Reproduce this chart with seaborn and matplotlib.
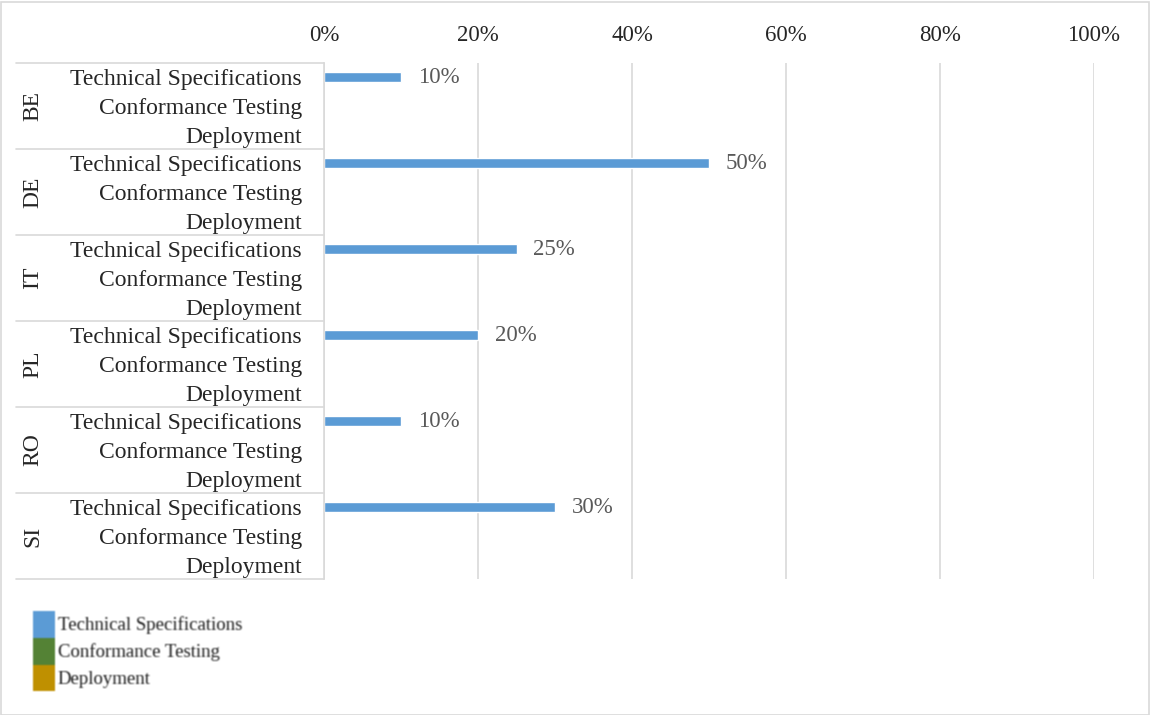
import numpy as np
import pandas as pd
import matplotlib
matplotlib.use("Agg")
import matplotlib.pyplot as plt
import matplotlib.image as mimage
import matplotlib.transforms as mtransforms
from matplotlib.patches import Patch, Rectangle
from matplotlib.ticker import PercentFormatter
import seaborn as sns

# ---- data ----
countries = ["BE", "DE", "IT", "PL", "RO", "SI"]
stages = ["Technical Specifications", "Conformance Testing", "Deployment"]
tech_spec = [0.10, 0.50, 0.25, 0.20, 0.10, 0.30]
conformance = [np.nan] * 6
deployment = [np.nan] * 6
x_ticks = [0.0, 0.2, 0.4, 0.6, 0.8, 1.0]
stage_colors = ["#5B9BD5", "#548235", "#BF9000"]

sns.set_theme(style="white")
plt.rcParams["font.family"] = ["Liberation Serif", "DejaVu Serif"]

rows = []
for i, c in enumerate(countries):
    for s, vals in zip(stages, [tech_spec, conformance, deployment]):
        rows.append({"row": f"{c}|{s}", "country": c, "stage": s, "value": vals[i]})
df = pd.DataFrame(rows)
row_order = list(df["row"])

W, H = 1150, 715
fig = plt.figure(figsize=(W / 100, H / 100), dpi=100)
ax = fig.add_axes([324 / W, 1 - 579 / H, (1094 - 324) / W, (579 - 63) / H])

sns.barplot(data=df, x="value", y="row", hue="stage", order=row_order,
            hue_order=stages, palette=stage_colors, dodge=False,
            orient="h", width=0.36, legend=False, ax=ax, saturation=1)

ax.set_xlim(0, 1)
ax.set_ylim(len(row_order) - 0.5, -0.5)
ax.xaxis.tick_top()
ax.set_xticks(x_ticks)
ax.xaxis.set_major_formatter(PercentFormatter(1.0, decimals=0))
ax.tick_params(axis="x", length=0, pad=12, labelsize=16.5, labelcolor="#262626")
ax.grid(axis="x", color="#D9D9D9", linewidth=1.2)
ax.set_axisbelow(True)
ax.set_xlabel("")
ax.set_ylabel("")
for side in ["top", "right", "bottom"]:
    ax.spines[side].set_visible(False)
ax.spines["left"].set_color("#D9D9D9")
ax.spines["left"].set_linewidth(1.2)

# inner category labels
ax.set_yticks(range(len(row_order)))
ax.set_yticklabels([r.split("|")[1] for r in row_order])
ax.tick_params(axis="y", length=0, pad=16, labelsize=17, labelcolor="#262626")

# value labels on the bars
for cont in ax.containers:
    labels = ["" if (v is None or np.isnan(v)) else f"{v:.0%}" for v in cont.datavalues]
    ax.bar_label(cont, labels=labels, padding=12, fontsize=16.5, color="#595959")

# outer category labels and group separators
blend = mtransforms.blended_transform_factory(fig.transFigure, ax.transData)
n = len(stages)
for i, c in enumerate(countries):
    ax.text(33 / W, i * n + (n - 1) / 2, c, transform=blend, rotation=90,
            ha="center", va="center", fontsize=17, color="#262626")
for k in range(len(countries) + 1):
    yb = k * n - 0.5
    ax.plot([16 / W, 324 / W], [yb, yb], transform=blend, color="#D9D9D9",
            linewidth=1.2, clip_on=False)

# legend
handles = [Patch(facecolor=col, edgecolor="none") for col in stage_colors]
fig.legend(handles, stages, loc="upper left", bbox_to_anchor=(33 / W, 1 - 611 / H),
           frameon=False, fontsize=13.5, handlelength=1.17, handleheight=1.82,
           labelspacing=0.0, handletextpad=0.15, borderpad=0, borderaxespad=0,
           labelcolor="#1A1A1A")

# chart border
fig.patches.append(Rectangle((0.5 / W, 0.5 / H), (W - 2) / W, (H - 2) / H,
                             transform=fig.transFigure, fill=False,
                             edgecolor="#D9D9D9", linewidth=1.2))

fig.savefig("out.png", dpi=100, facecolor="white")

# soften the legend block
img = mimage.imread("out.png")[..., :3].copy()
y0, y1, x0, x1 = 600, 700, 20, 270
region = img[y0:y1, x0:x1]
k = np.array([1, 2, 1], dtype=float)
k /= k.sum()
pad = np.pad(region, ((1, 1), (1, 1), (0, 0)), mode="edge")
tmp = sum(k[i] * pad[i:i + region.shape[0], :, :] for i in range(3))
blurred = sum(k[j] * tmp[:, j:j + region.shape[1], :] for j in range(3))
img[y0:y1, x0:x1] = blurred
plt.imsave("out.png", np.clip(img, 0, 1))
